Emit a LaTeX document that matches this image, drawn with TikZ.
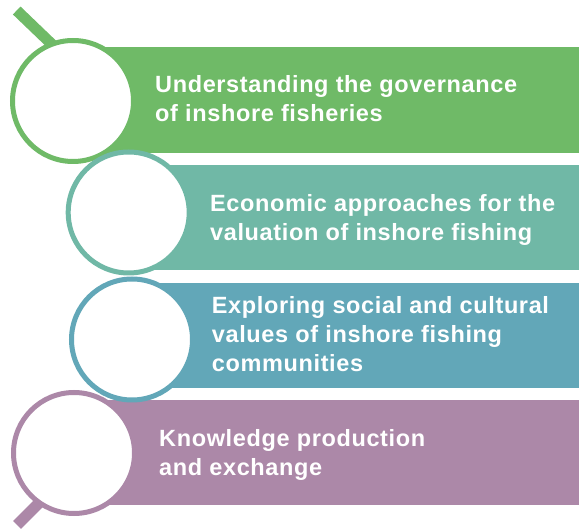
\documentclass[tikz,border=0pt]{standalone}
\usepackage{fontspec}
\setmainfont{Liberation Sans}[LetterSpace=2.7]
\definecolor{cgreen}{HTML}{6FBA67}
\definecolor{cteal}{HTML}{70B8A6}
\definecolor{cblue}{HTML}{62A7B8}
\definecolor{cpurple}{HTML}{AC88A8}
\tikzset{
  ring/.style={circle, draw=#1, line width=5pt, fill=white, minimum size=121pt, inner sep=0pt},
  lab/.style={anchor=base west, inner sep=0pt, text=white, font=\fontsize{23.5}{29}\selectfont\bfseries},
  handle/.style={draw=#1, line width=11pt, line cap=butt}
}
\begin{document}
\begin{tikzpicture}[x=1pt,y=-1pt]
\useasboundingbox (0,0) rectangle (579,529);
% bands
\fill[cgreen]  (73,47.3)   rectangle (579,152.7);
\fill[cteal]   (128.7,165) rectangle (579,270);
\fill[cblue]   (132,283.3) rectangle (579,388.3);
\fill[cpurple] (74,400)    rectangle (579,505);
% handles
\coordinate (h1a) at (16.7,10.5);
\coordinate (h1b) at (62,54);
\coordinate (h4a) at (17,525);
\coordinate (h4b) at (48,494);
\draw[handle=cgreen] (h1a) -- (h1b);
\draw[handle=cpurple] (h4a) -- (h4b);
% circles
\node[ring=cgreen]  (c1) at (73,101) {};
\node[ring=cteal]   (c2) at (128.7,212.5) {};
\node[ring=cblue]   (c3) at (132,339.5) {};
\node[ring=cpurple] (c4) at (74,453) {};
% texts
\node[lab] (t1) at (155,93) {\vtop{\hbox{Understanding the governance}\hbox{of inshore fisheries}}};
\node[lab] (t2) at (210,211.7) {\vtop{\hbox{Economic approaches for the}\hbox{valuation of inshore fishing}}};
\node[lab] (t3) at (211.7,313.3) {\vtop{\hbox{Exploring social and cultural}\hbox{values of inshore fishing}\hbox{communities}}};
\node[lab] (t4) at (159,446.7) {\vtop{\hbox{Knowledge production}\hbox{and exchange}}};
\end{tikzpicture}
\end{document}
